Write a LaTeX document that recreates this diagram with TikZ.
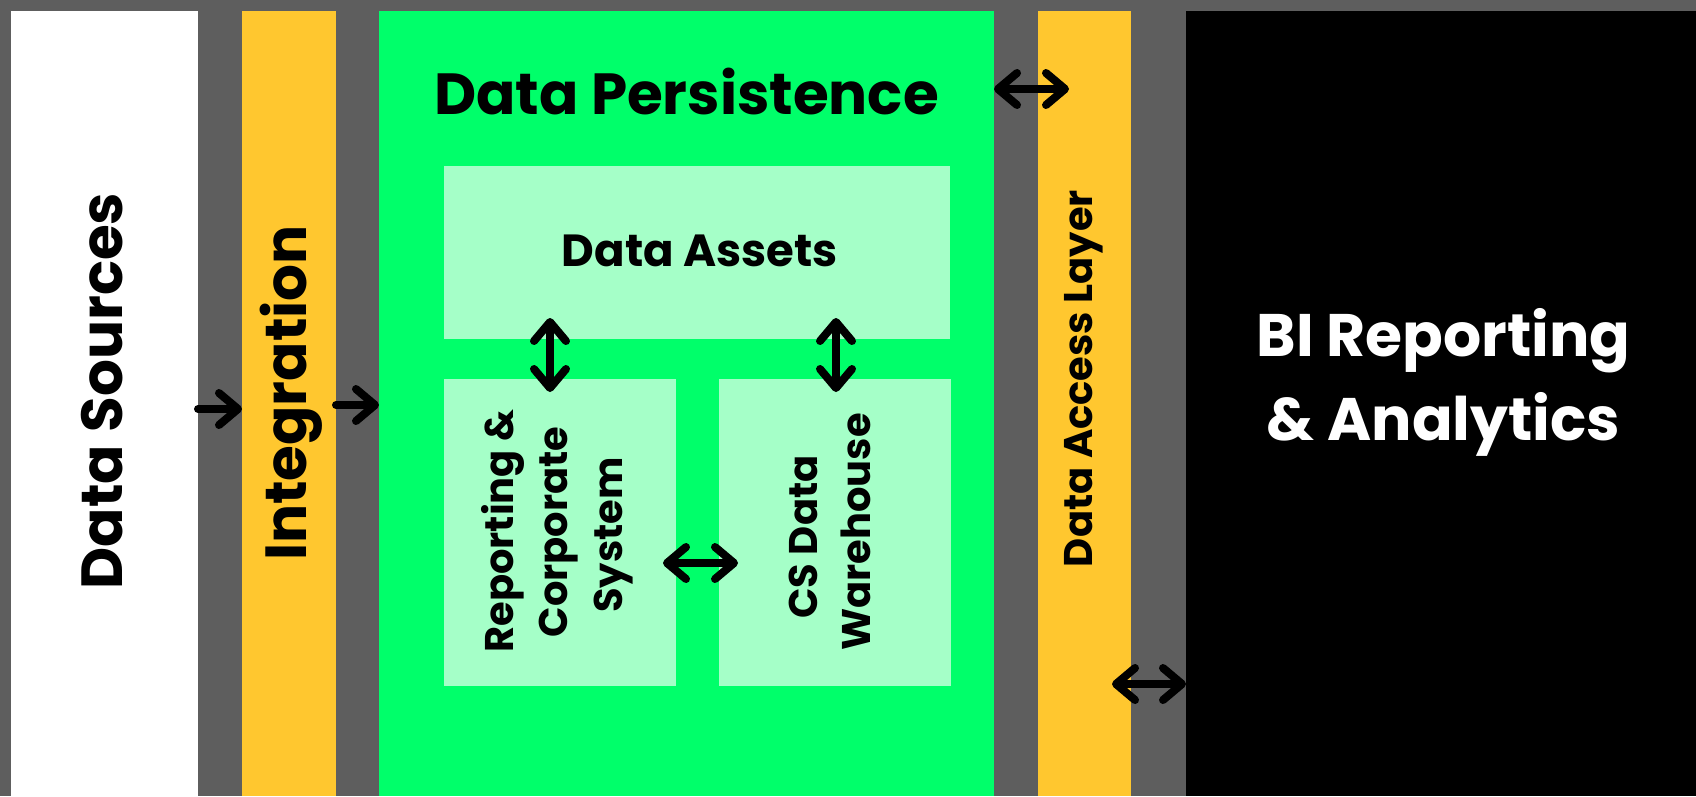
\documentclass[tikz,border=0pt]{standalone}
\usepackage{fontspec}
\setmainfont{Poppins}
\usetikzlibrary{arrows.meta}
\definecolor{bggray}{HTML}{5E5E5E}
\definecolor{barorange}{HTML}{FFC72F}
\definecolor{dpgreen}{HTML}{00FF6A}
\definecolor{lightgreen}{HTML}{A5FFC8}
\tikzset{
  panel/.style={inner sep=0pt, outer sep=0pt, anchor=north west, draw=none},
  lbl/.style={inner sep=0pt, outer sep=0pt, anchor=base},
  barb/.tip={Straight Barb[length=19pt,width=32pt,round]},
  conn/.style={line width=8pt, line cap=round, -barb},
  dconn/.style={line width=8pt, line cap=round, barb-barb}
}
\begin{document}
\begin{tikzpicture}[x=1pt,y=-1pt]
\fill[bggray] (0,0) rectangle (1696,796);
\useasboundingbox (0,0) rectangle (1696,796);
% columns
\node[panel, fill=white, minimum width=187pt, minimum height=785pt] (ds) at (11,11) {};
\node[panel, fill=barorange, minimum width=94pt, minimum height=785pt] (int) at (242,11) {};
\node[panel, fill=dpgreen, minimum width=615pt, minimum height=785pt] (dp) at (379,11) {};
\node[panel, fill=barorange, minimum width=93pt, minimum height=785pt] (dal) at (1038,11) {};
\node[panel, fill=black, minimum width=510pt, minimum height=785pt] (bi) at (1186,11) {};
% inner boxes
\node[panel, fill=lightgreen, minimum width=506pt, minimum height=173pt] (da) at (444,166) {};
\node[panel, fill=lightgreen, minimum width=232pt, minimum height=307pt] (rcs) at (444,379) {};
\node[panel, fill=lightgreen, minimum width=232pt, minimum height=307pt] (csdw) at (719,379) {};
% labels
\node[lbl, rotate=90, font=\fontsize{58}{58}\bfseries] (tds) at (122,391) {Data Sources};
\node[lbl, rotate=90, font=\fontsize{58}{58}\bfseries] (tint) at (306.7,393) {Integration};
\node[lbl, font=\fontsize{58}{58}\bfseries] (tdp) at (686.5,114) {Data Persistence};
\node[lbl, font=\fontsize{45}{45}\bfseries] (tda) at (700,266) {Data Assets};
\node[lbl, rotate=90, font=\fontsize{40}{40}\bfseries] (trcs1) at (513,531) {Reporting \&};
\node[lbl, rotate=90, font=\fontsize{40}{40}\bfseries] (trcs2) at (567,532) {Corporate};
\node[lbl, rotate=90, font=\fontsize{40}{40}\bfseries] (trcs3) at (622,535) {System};
\node[lbl, rotate=90, font=\fontsize{40}{40}\bfseries] (tcs1) at (817,537) {CS Data};
\node[lbl, rotate=90, font=\fontsize{40}{40}\bfseries] (tcs2) at (870,532) {Warehouse};
\node[lbl, rotate=90, font=\fontsize{40}{40}\bfseries] (tdal) at (1092,378.5) {Data Access Layer};
\node[lbl, text=white, font=\fontsize{60}{60}\bfseries] (tbi1) at (1443.5,356) {BI Reporting};
\node[lbl, text=white, font=\fontsize{60}{60}\bfseries] (tbi2) at (1443.5,440) {\& Analytics};
% connector helper coordinates
\coordinate (r1) at (0,409);
\coordinate (r2) at (0,405);
\coordinate (r3) at (0,89);
\coordinate (r4) at (0,684);
\coordinate (dalin) at (1069,89);
\coordinate (dalout) at (1112,684);
\coordinate (v1a) at (550,318);
\coordinate (v1b) at (550,392);
\coordinate (v2a) at (836,318);
\coordinate (v2b) at (836,392);
\coordinate (h1a) at (663,563);
\coordinate (h1b) at (738,563);
% connectors
\draw[conn] (ds.east |- r1) -- (int.west |- r1);
\draw[conn] (int.east |- r2) -- (dp.west |- r2);
\draw[dconn] (dp.east |- r3) -- (dalin);
\draw[dconn] (dalout) -- (bi.west |- r4);
\draw[dconn] (v1a) -- (v1b);
\draw[dconn] (v2a) -- (v2b);
\draw[dconn] (h1a) -- (h1b);
\end{tikzpicture}
\end{document}
